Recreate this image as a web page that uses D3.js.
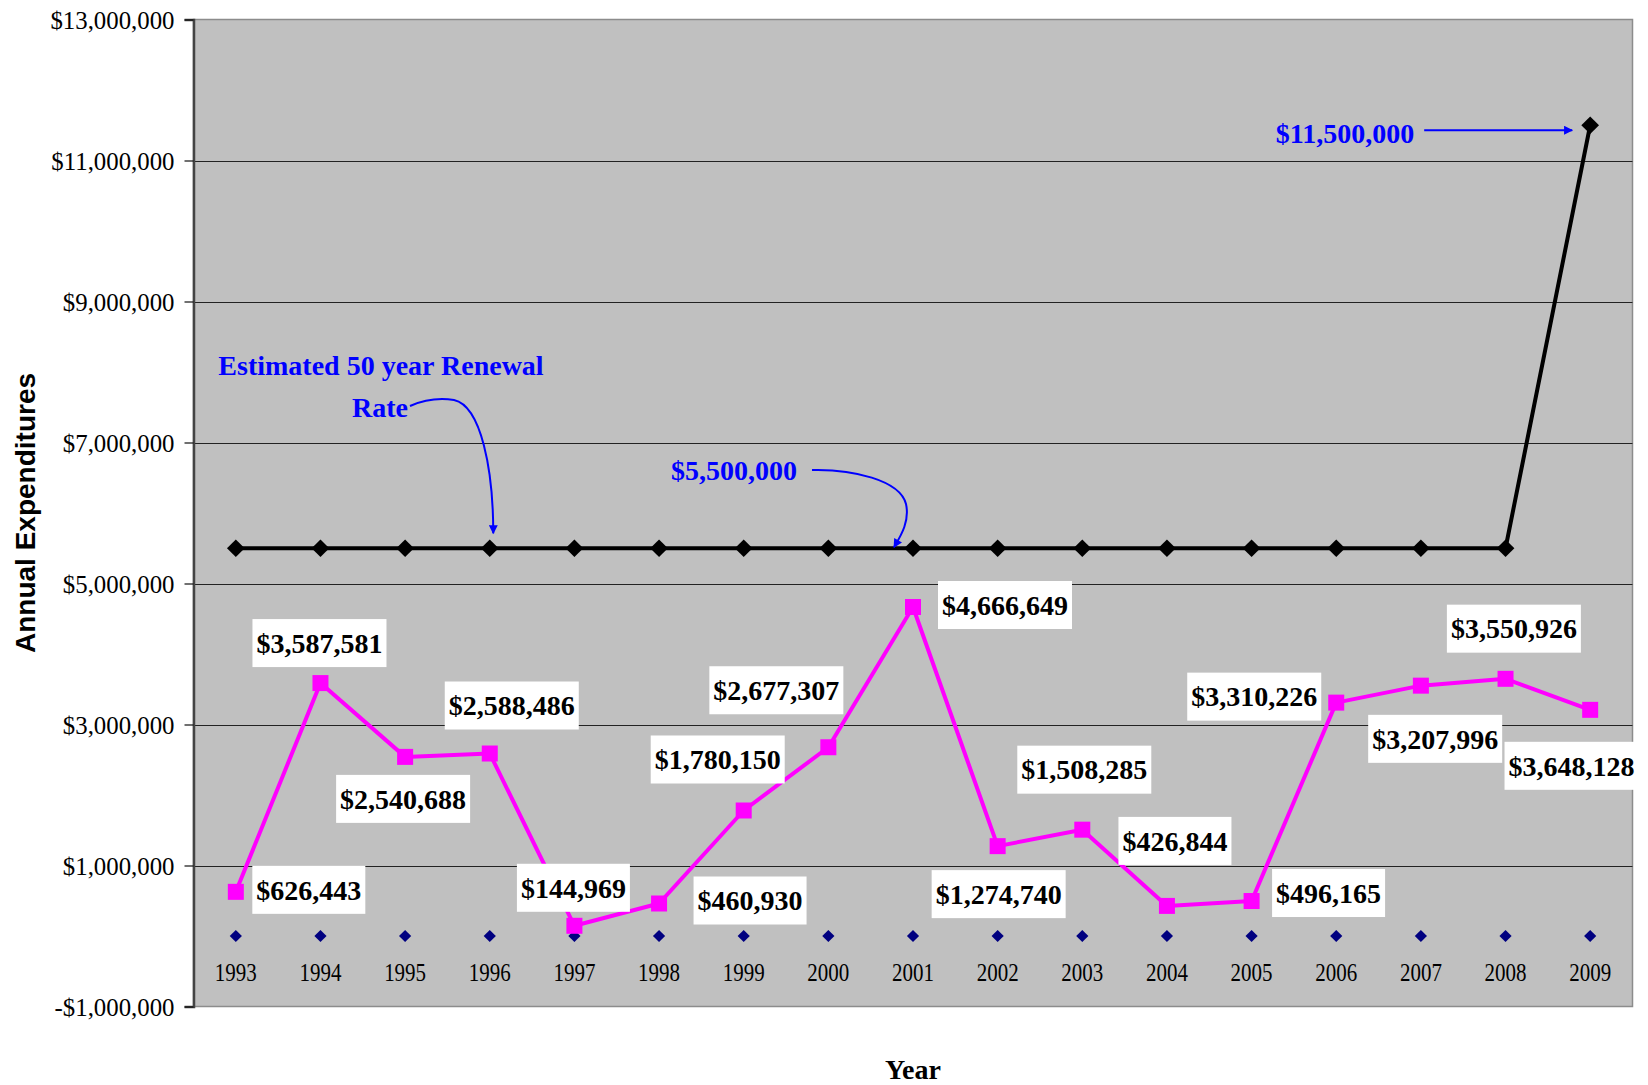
<!DOCTYPE html>
<html>
<head>
<meta charset="utf-8">
<script src="https://cdn.jsdelivr.net/npm/d3@7"></script>
<style>
  body { margin: 0; background: #fff; }
  svg { display: block; }
</style>
</head>
<body>
<svg id="chart" width="1648" height="1085"></svg>
<script>
// ---- data ----
const years = [1993, 1994, 1995, 1996, 1997, 1998, 1999, 2000, 2001,
               2002, 2003, 2004, 2005, 2006, 2007, 2008, 2009];
const expenditures = [626443, 3587581, 2540688, 2588486, 144969, 460930, 1780150,
                      2677307, 4666649, 1274740, 1508285, 426844, 496165,
                      3310226, 3550926, 3648128, 3207996];
const renewalRate = [5500000, 5500000, 5500000, 5500000, 5500000, 5500000, 5500000,
                     5500000, 5500000, 5500000, 5500000, 5500000, 5500000,
                     5500000, 5500000, 5500000, 11500000];
const baselineSeries = [0, 0, 0, 0, 0, 0, 0, 0, 0, 0, 0, 0, 0, 0, 0, 0, 0];
const yTickValues = [-1000000, 1000000, 3000000, 5000000, 7000000, 9000000, 11000000, 13000000];

// label box centre offsets from each expenditure point (px)
const labelOffsets = [[73, -2], [-1, -40], [-2, 42], [22, -48], [-1, -38], [91, -3],
                      [-26, -51], [-52, -57], [92, -2], [1, 48], [2, -60], [8, -65],
                      [77, -8], [-82, -6], [93, -57], [66, 87], [-155, 29]];

// ---- layout ----
const svg = d3.select("#chart");
const plot = { left: 193.5, right: 1632.5, top: 19.5, bottom: 1006.5 };
const serif = "'Liberation Serif', 'Times New Roman', serif";
const sans = "'Liberation Sans', Arial, sans-serif";

const x = d3.scaleBand().domain(years).range([plot.left, plot.right]).padding(0);
const cx = d => x(d) + x.bandwidth() / 2;
const y = d3.scaleLinear().domain([-1000000, 13000000]).range([plot.bottom, plot.top]);

const money = v => (v < 0 ? "-$" : "$") + d3.format(",")(Math.abs(v));

// plot area
svg.append("rect")
  .attr("x", plot.left).attr("y", plot.top)
  .attr("width", plot.right - plot.left).attr("height", plot.bottom - plot.top)
  .attr("fill", "#c0c0c0").attr("stroke", "#8c8c8c").attr("stroke-width", 1.5);

// horizontal gridlines
svg.append("g").selectAll("line")
  .data(yTickValues.filter(v => v > -1000000 && v < 13000000))
  .join("line")
  .attr("x1", plot.left).attr("x2", plot.right)
  .attr("y1", d => Math.round(y(d)) + 0.5).attr("y2", d => Math.round(y(d)) + 0.5)
  .attr("stroke", "#222").attr("stroke-width", 1);

// value axis
const yAxis = svg.append("g")
  .attr("transform", `translate(${plot.left},0)`)
  .call(d3.axisLeft(y).tickValues(yTickValues).tickSize(9).tickFormat(money));
yAxis.select(".domain").attr("stroke", "#444").attr("stroke-width", 2.5);
yAxis.selectAll(".tick line").attr("stroke", "#111").attr("stroke-width", 1.2);
yAxis.selectAll(".tick text")
  .attr("x", null).attr("dy", "0.34em")
  .attr("transform", "translate(-19,0) scale(0.955,1)")
  .style("font-family", serif).style("font-size", "26px").attr("fill", "#000");

// category labels
svg.append("g").selectAll("text")
  .data(years)
  .join("text")
  .attr("transform", d => `translate(${cx(d)},${y(0) + 45}) scale(0.84,1)`)
  .attr("text-anchor", "middle")
  .style("font-family", serif).style("font-size", "25px")
  .text(d => d);

// zero series markers
svg.append("g").selectAll("path")
  .data(years)
  .join("path")
  .attr("transform", (d, i) => `translate(${cx(d)},${y(baselineSeries[i])})`)
  .attr("d", d3.symbol(d3.symbolDiamond2, 95))
  .attr("fill", "#000080");

// renewal rate line
const line = d3.line().x((d, i) => cx(years[i])).y(d => y(d));
svg.append("path").datum(renewalRate)
  .attr("d", line).attr("fill", "none")
  .attr("stroke", "#000").attr("stroke-width", 4).attr("stroke-linejoin", "round");
svg.append("g").selectAll("path")
  .data(renewalRate)
  .join("path")
  .attr("transform", (d, i) => `translate(${cx(years[i])},${y(d)})`)
  .attr("d", d3.symbol(d3.symbolDiamond2, 200))
  .attr("fill", "#000");

// expenditure line
svg.append("path").datum(expenditures)
  .attr("d", line).attr("fill", "none")
  .attr("stroke", "#ff00ff").attr("stroke-width", 4).attr("stroke-linejoin", "round");
svg.append("g").selectAll("rect")
  .data(expenditures)
  .join("rect")
  .attr("x", (d, i) => cx(years[i]) - 8).attr("y", d => y(d) - 8)
  .attr("width", 16).attr("height", 16)
  .attr("fill", "#ff00ff");

// data labels
const labels = svg.append("g").selectAll("g")
  .data(expenditures)
  .join("g")
  .attr("transform", (d, i) =>
    `translate(${cx(years[i]) + labelOffsets[i][0]},${y(d) + labelOffsets[i][1]})`);
labels.append("rect").attr("fill", "#fff");
labels.append("text")
  .attr("text-anchor", "middle").attr("dy", "0.35em")
  .style("font-family", serif).style("font-size", "28px").style("font-weight", "bold")
  .attr("fill", "#000")
  .text(d => money(d));
labels.each(function () {
  const g = d3.select(this);
  const b = g.select("text").node().getBBox();
  g.select("rect")
    .attr("x", b.x - 4).attr("y", -24)
    .attr("width", b.width + 8).attr("height", 48);
});

// annotations
const blue = "#0000ff";
svg.append("defs").append("marker")
  .attr("id", "arrowhead")
  .attr("viewBox", "0 0 10 10").attr("refX", 9).attr("refY", 5)
  .attr("markerUnits", "userSpaceOnUse")
  .attr("markerWidth", 11).attr("markerHeight", 9)
  .attr("orient", "auto")
  .append("path").attr("d", "M0,0 L10,5 L0,10 Z").attr("fill", blue);

const annText = (tx, ty, str, anchor) => svg.append("text")
  .attr("x", tx).attr("y", ty).attr("text-anchor", anchor || "start")
  .style("font-family", serif).style("font-size", "28px").style("font-weight", "bold")
  .attr("fill", blue).text(str);

annText(381, 375, "Estimated 50 year Renewal", "middle");
annText(380, 417, "Rate", "middle");
const tip1 = [cx(1996) + 3.5, y(renewalRate[3]) - 15];
svg.append("path")
  .attr("d", `M410,406 C426,399 441,398 454,400 C${tip1[0] - 12},406 ${tip1[0]},470 ${tip1[0]},${tip1[1]}`)
  .attr("fill", "none").attr("stroke", blue).attr("stroke-width", 2)
  .attr("marker-end", "url(#arrowhead)");

annText(734, 480, money(renewalRate[8]), "middle");
const tip2 = [cx(2001) - 19, y(renewalRate[8]) - 1];
svg.append("path")
  .attr("d", `M812,470 C852,469 900,480 906,504 C910,522 ${tip2[0] + 6},537 ${tip2[0]},${tip2[1]}`)
  .attr("fill", "none").attr("stroke", blue).attr("stroke-width", 2)
  .attr("marker-end", "url(#arrowhead)");

const tip3 = [cx(2009) - 18, y(renewalRate[16]) + 5];
annText(tip3[0] - 158, tip3[1] + 13, money(renewalRate[16]), "end");
svg.append("line")
  .attr("x1", tip3[0] - 148).attr("y1", tip3[1])
  .attr("x2", tip3[0]).attr("y2", tip3[1])
  .attr("stroke", blue).attr("stroke-width", 2)
  .attr("marker-end", "url(#arrowhead)");

// axis titles
svg.append("text")
  .attr("transform", `translate(35,${(plot.top + plot.bottom) / 2}) rotate(-90)`)
  .attr("text-anchor", "middle")
  .style("font-family", sans).style("font-size", "28px").style("font-weight", "bold")
  .text("Annual Expenditures");
svg.append("text")
  .attr("x", (plot.left + plot.right) / 2).attr("y", 1079)
  .attr("text-anchor", "middle")
  .style("font-family", serif).style("font-size", "28px").style("font-weight", "bold")
  .text("Year");
</script>
</body>
</html>
